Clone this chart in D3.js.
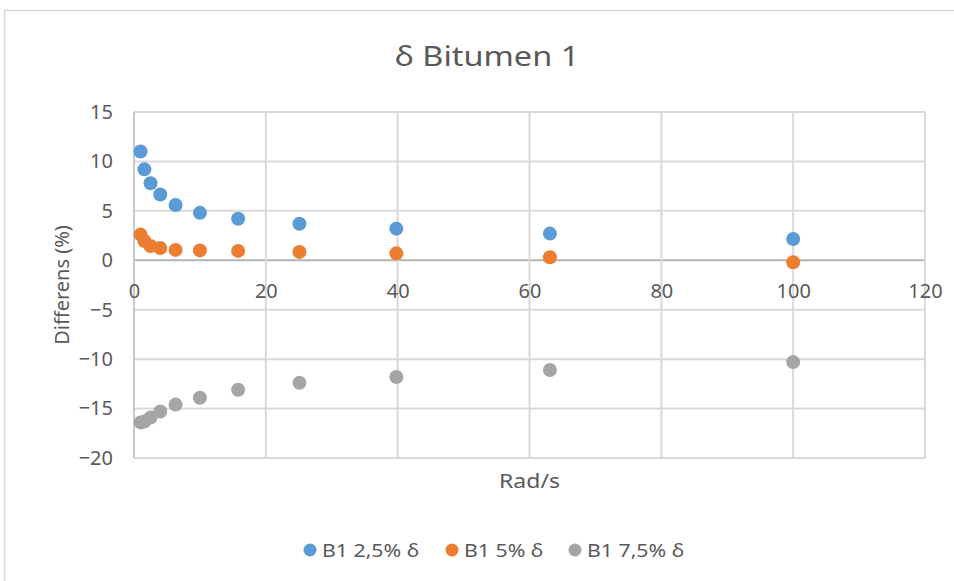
<!DOCTYPE html>
<html>
<head>
<meta charset="utf-8">
<script src="https://cdn.jsdelivr.net/npm/d3@7"></script>
<style>
  html, body { margin: 0; padding: 0; background: #fff; }
  svg { display: block; }
  text { font-family: "Noto Sans", "Open Sans", sans-serif; fill: #595959; }
</style>
</head>
<body>
<svg id="chart" width="954" height="581"></svg>
<script>
// Angular frequency (rad/s) of each measurement point
const frequencies = [1, 1.58, 2.51, 3.98, 6.31, 10, 15.8, 25.1, 39.8, 63.1, 100];

// Difference in phase angle (%) per series
const b1_25 = [11.0, 9.2, 7.8, 6.65, 5.6, 4.8, 4.2, 3.7, 3.2, 2.7, 2.15];
const b1_50 = [2.6, 1.95, 1.45, 1.25, 1.05, 1.0, 0.95, 0.85, 0.7, 0.3, -0.2];
const b1_75 = [-16.4, -16.3, -15.9, -15.3, -14.6, -13.9, -13.1, -12.4, -11.8, -11.1, -10.3];

const seriesNames = ["B1 2,5% δ", "B1 5% δ", "B1 7,5% δ"];
const seriesColors = ["#5B9BD5", "#ED7D31", "#A5A5A5"];

const xTicks = [0, 20, 40, 60, 80, 100, 120];
const yTicks = [15, 10, 5, 0, -5, -10, -15, -20];

const series = [b1_25, b1_50, b1_75].map((vals, i) => ({
  name: seriesNames[i],
  color: seriesColors[i],
  points: vals.map((v, j) => ({ x: frequencies[j], y: v }))
}));

const svg = d3.select("#chart");
const plot = { left: 134, right: 925, top: 112, bottom: 458 };

const x = d3.scaleLinear().domain([0, 120]).range([plot.left, plot.right]);
const y = d3.scaleLinear().domain([-20, 15]).range([plot.bottom, plot.top]);

// Chart frame
svg.append("rect")
  .attr("x", 4.5).attr("y", 10.5)
  .attr("width", 1000).attr("height", 1000)
  .attr("fill", "none")
  .attr("stroke", "#D9D9D9")
  .attr("stroke-width", 1.5);

// Title (slightly widened lettering)
svg.append("text")
  .attr("transform", "translate(487,66) scale(1.18,1)")
  .attr("text-anchor", "middle")
  .attr("font-size", 27.5)
  .text("δ Bitumen 1");

// Horizontal gridlines
svg.append("g")
  .selectAll("line")
  .data(yTicks)
  .join("line")
  .attr("x1", plot.left).attr("x2", plot.right)
  .attr("y1", d => y(d)).attr("y2", d => y(d))
  .attr("stroke", d => d === 0 ? "#B4B4B4" : "#D9D9D9")
  .attr("stroke-width", 2);

// Vertical gridlines
svg.append("g")
  .selectAll("line")
  .data(xTicks)
  .join("line")
  .attr("x1", d => x(d)).attr("x2", d => x(d))
  .attr("y1", plot.top).attr("y2", plot.bottom)
  .attr("stroke", d => d === 0 ? "#C8C8C8" : "#D9D9D9")
  .attr("stroke-width", 2);

// Y tick labels
const yAxis = d3.axisLeft(y).tickValues(yTicks).tickSize(0).tickPadding(21);
const gy = svg.append("g").attr("transform", `translate(${plot.left},0)`).call(yAxis);
gy.select(".domain").remove();
gy.selectAll("text").attr("font-size", 20).attr("fill", "#595959")
  .style("font-family", '"Noto Sans", sans-serif');

// X tick labels sit below the zero line
const xAxis = d3.axisBottom(x).tickValues(xTicks).tickSize(0).tickPadding(24);
const gx = svg.append("g").attr("transform", `translate(0,${y(0)})`).call(xAxis);
gx.select(".domain").remove();
gx.selectAll("text").attr("font-size", 20).attr("fill", "#595959")
  .style("font-family", '"Noto Sans", sans-serif');

// Axis titles
svg.append("text")
  .attr("transform", `translate(69,${(plot.top + plot.bottom) / 2}) rotate(-90)`)
  .attr("text-anchor", "middle")
  .attr("font-size", 20)
  .text("Differens (%)");

svg.append("text")
  .attr("transform", `translate(${(plot.left + plot.right) / 2},488) scale(1.15,1)`)
  .attr("text-anchor", "middle")
  .attr("font-size", 20)
  .text("Rad/s");

// Markers
svg.append("g")
  .selectAll("g")
  .data(series)
  .join("g")
  .attr("fill", d => d.color)
  .selectAll("circle")
  .data(d => d.points)
  .join("circle")
  .attr("cx", d => x(d.x))
  .attr("cy", d => y(d.y))
  .attr("r", 7);

// Legend
const legendX = [310, 452, 575];
const legend = svg.append("g")
  .selectAll("g")
  .data(series)
  .join("g")
  .attr("transform", (d, i) => `translate(${legendX[i]},550)`);
legend.append("circle").attr("r", 6.5).attr("fill", d => d.color);
legend.append("text")
  .attr("transform", "translate(12,6.5) scale(1.15,1)")
  .attr("font-size", 18.5)
  .text(d => d.name);
</script>
</body>
</html>
